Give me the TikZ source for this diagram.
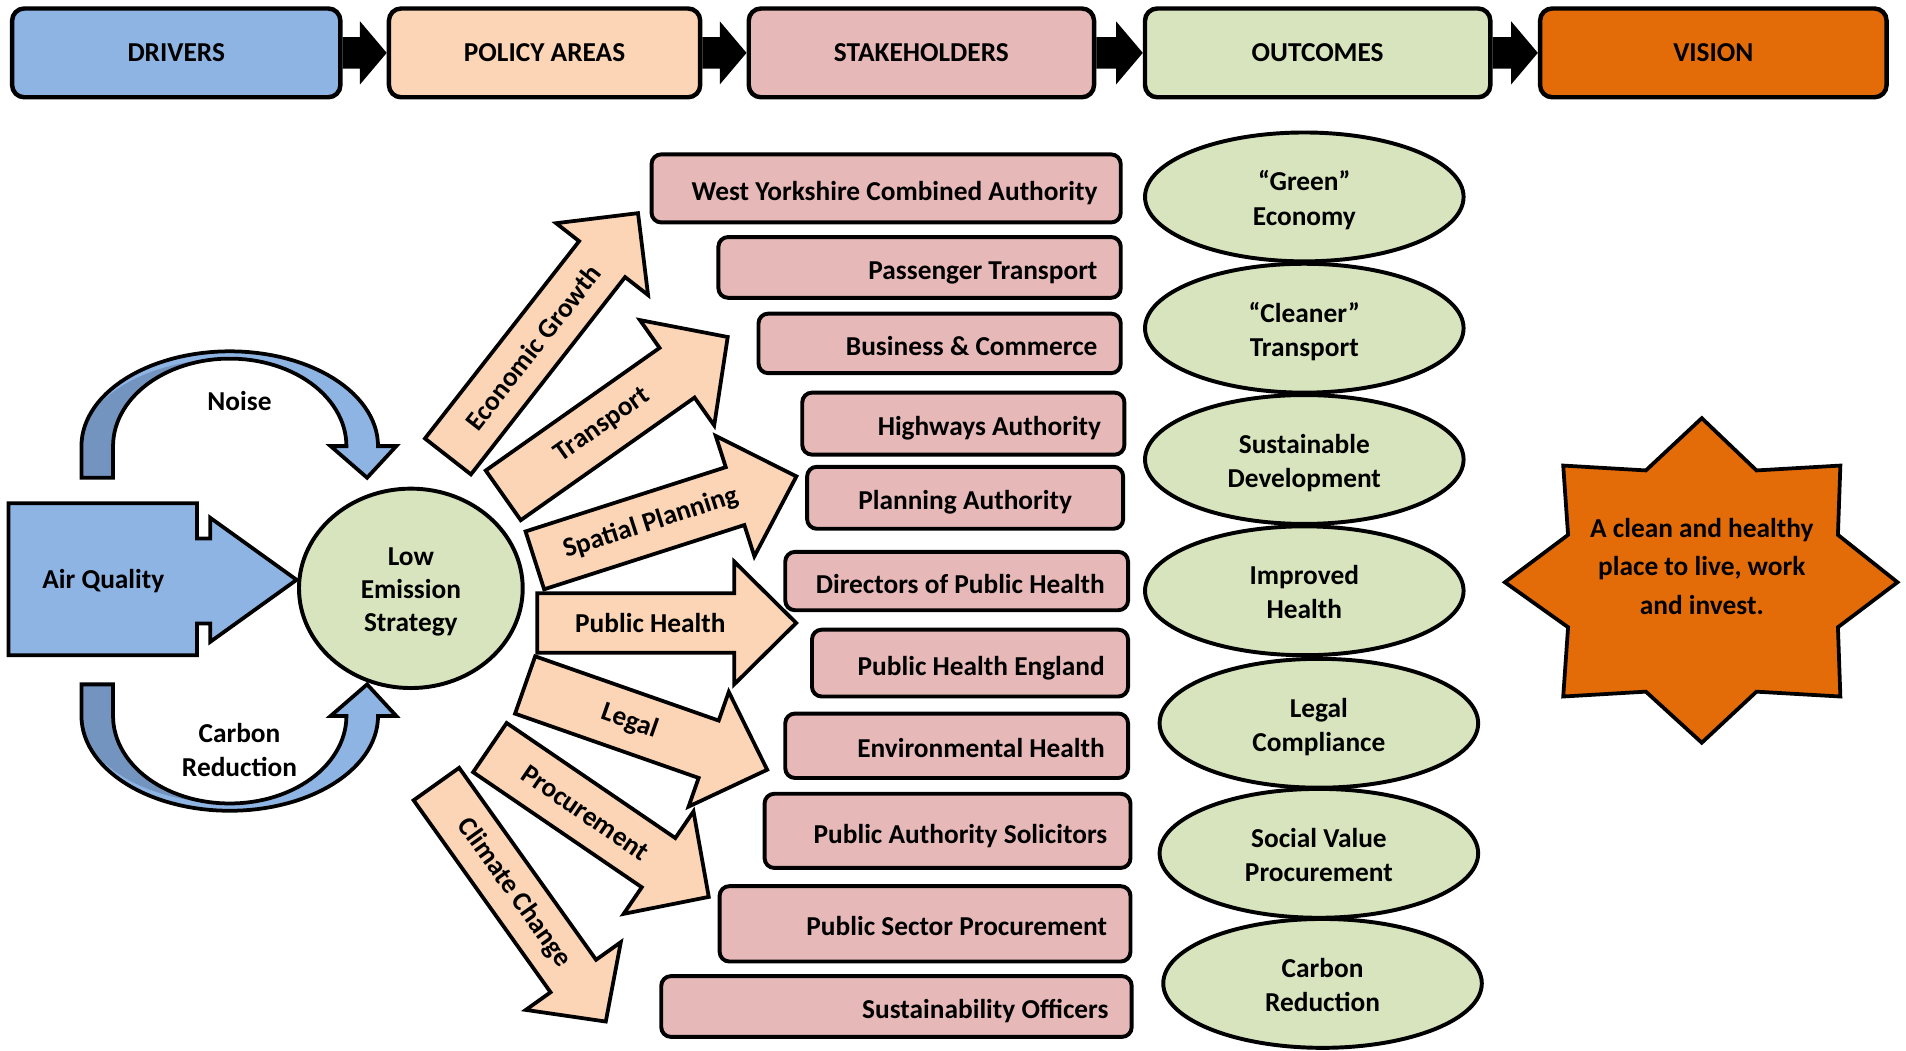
\documentclass[tikz,border=0pt]{standalone}
\usepackage{fontspec}
\setmainfont{Carlito}
\usetikzlibrary{shapes.geometric,calc}
\definecolor{hblue}{HTML}{8EB4E3}
\definecolor{dblue}{HTML}{7394BF}
\definecolor{peach}{HTML}{FBD5B5}
\definecolor{spink}{HTML}{E6B9B8}
\definecolor{lgreen}{HTML}{D7E4BD}
\definecolor{orng}{HTML}{E36C09}
\newcommand{\parrow}[9]{%
  \begin{scope}[shift={#2}, rotate=#3]
    \draw[polarrow] (0,-#5) -- ({#4-#7},-#5) -- ({#4-#7},-#6) -- (#4,0) -- ({#4-#7},#6) -- ({#4-#7},#5) -- (0,#5) -- cycle;
    \node[lbl, rotate=#3] (#1) at (#8,0) {#9};
  \end{scope}}
% name, x1, x2, y1, y2, text, r (right aligned) or c (centered)
\newcommand{\stake}[7]{%
  \pgfmathsetmacro{\stkw}{(#3-#2)*0.025}%
  \pgfmathsetmacro{\stkh}{(#5-#4)*0.025}%
  \node[stk, minimum width=\stkw cm, minimum height=\stkh cm] (#1) at ({(#2+#3)/2},{(#4+#5)/2}) {};
  \if#7r
    \node[lbl, anchor=base east] (#1t) at ($(#1.east)+(-20.5,10)$) {#6};
  \else
    \node[lbl, anchor=base] (#1t) at ($(#1.center)+(0,10)$) {#6};
  \fi}
\newcommand{\outcome}[5]{%
  \node[outc] (#1) at (#2,#3) {};
  \node[lbl, align=center] (#1t) at ($(#1.center)+(0,3.5)$) {\strut #4\\\strut #5};}
\begin{document}
\begin{tikzpicture}[x=0.025cm, y=-0.025cm,
  lbl/.style={font=\fontsize{16}{20}\selectfont\bfseries, inner sep=0pt},
  hdr/.style={lbl, draw, line width=2.6pt, rounded corners=0.25cm, minimum height=1.825cm},
  stk/.style={draw, line width=2.3pt, fill=spink, rounded corners=0.2cm, inner sep=0pt},
  outc/.style={ellipse, draw, line width=2.3pt, fill=lgreen, minimum width=6.55cm, minimum height=2.65cm, inner sep=0pt},
  polarrow/.style={draw, line width=2.2pt, fill=peach, line join=miter},
  shp/.style={draw, line width=2.2pt}]
\useasboundingbox (0,0) rectangle (1568,864);

% ---------- header ----------
\node[hdr, fill=hblue, minimum width=6.75cm] (h1) at (145,43.5) {DRIVERS};
\node[hdr, fill=peach, minimum width=6.4cm] (h2) at (448,43.5) {POLICY AREAS};
\node[hdr, fill=spink, minimum width=7.1cm] (h3) at (758,43.5) {STAKEHOLDERS};
\node[hdr, fill=lgreen, minimum width=7.1cm] (h4) at (1084,43.5) {OUTCOMES};
\node[hdr, fill=orng, minimum width=7.125cm] (h5) at (1409.5,43.5) {VISION};
\foreach \a/\b in {h1/h2, h2/h3, h3/h4, h4/h5}{
  \fill ($(\a.east)+(0,-13)$) -- ($(\b.west)+(-22,-13)$) -- ($(\b.west)+(-22,-26)$) -- (\b.west)
     -- ($(\b.west)+(-22,26)$) -- ($(\b.west)+(-22,13)$) -- ($(\a.east)+(0,13)$) -- cycle;
}

% ---------- drivers ----------
\draw[shp, fill=hblue, line join=miter] (7,414) -- (162,414) -- (162,443) -- (173,443) -- (173,426) -- (244,477)
   -- (173,528) -- (173,513) -- (162,513) -- (162,539) -- (7,539) -- cycle;
\node[lbl] (aq) at (85,478) {Air Quality};

% Noise curved arrow
\fill[hblue] (67,393) -- (67,367) -- plot[domain=180:0, samples=60] ({189+122*cos(\x)},{367-78*sin(\x)})
   -- (326,367) -- (302,393) -- (272,367) -- (285,367)
   -- plot[domain=0:180, samples=60] ({189+96*cos(\x)},{367-72*sin(\x)}) -- (93,393) -- cycle;
\fill[dblue] (67,393) -- (67,367) -- plot[domain=180:90, samples=40] ({189+122*cos(\x)},{367-72*sin(\x)})
   -- plot[domain=90:180, samples=40] ({189+96*cos(\x)},{367-72*sin(\x)}) -- (93,393) -- cycle;
\draw[shp, line join=miter] (67,393) -- (67,367) -- plot[domain=180:0, samples=60] ({189+122*cos(\x)},{367-78*sin(\x)})
   -- (326,367) -- (302,393) -- (272,367) -- (285,367)
   -- plot[domain=0:180, samples=60] ({189+96*cos(\x)},{367-72*sin(\x)}) -- (93,393) -- cycle;
\node[lbl] (noise) at (197,330) {Noise};

% Carbon curved arrow
\fill[hblue] (67,563) -- (67,589) -- plot[domain=180:0, samples=60] ({189+122*cos(\x)},{589+78*sin(\x)})
   -- (326,589) -- (302,563) -- (272,589) -- (285,589)
   -- plot[domain=0:180, samples=60] ({189+96*cos(\x)},{589+72*sin(\x)}) -- (93,563) -- cycle;
\fill[dblue] (67,563) -- (67,589) -- plot[domain=180:90, samples=40] ({189+122*cos(\x)},{589+72*sin(\x)})
   -- plot[domain=90:180, samples=40] ({189+96*cos(\x)},{589+72*sin(\x)}) -- (93,563) -- cycle;
\draw[shp, line join=miter] (67,563) -- (67,589) -- plot[domain=180:0, samples=60] ({189+122*cos(\x)},{589+78*sin(\x)})
   -- (326,589) -- (302,563) -- (272,589) -- (285,589)
   -- plot[domain=0:180, samples=60] ({189+96*cos(\x)},{589+72*sin(\x)}) -- (93,563) -- cycle;
\node[lbl, align=center] (carb) at (197,617) {Carbon\\Reduction};

% Low emission strategy
\node[ellipse, draw, line width=2.3pt, fill=lgreen, minimum width=4.6cm, minimum height=4.1cm, inner sep=0pt] (les) at (338,484) {};
\node[lbl, align=center, font=\fontsize{16}{19.5}\selectfont\bfseries] (lest) at ($(les.center)+(0,3)$) {Low\\Emission\\Strategy};

% ---------- policy areas ----------
\parrow{pecon}{(368.5,375.5)}{52}{254}{24}{48}{48}{114}{Economic Growth}
\parrow{ptrans}{(414,407.5)}{35.2}{226}{25}{53}{51}{100}{Transport}
\parrow{pspat}{(440,461)}{17.8}{226}{25}{52}{53}{100}{Spatial Planning}
\parrow{phealth}{(442,512.5)}{0}{213}{24.5}{50.5}{51}{93}{Public Health}
\parrow{plegal}{(432,563.5)}{-19.3}{211}{25}{50}{51}{91}{Legal}
\parrow{pproc}{(403,615)}{-34.3}{218}{24.5}{51}{50}{95}{Procurement}
\parrow{pclim}{(359,645)}{-54.5}{240}{23}{48}{46}{110}{Climate Change}

% ---------- stakeholders ----------
\stake{s1}{536}{922}{127}{183}{West Yorkshire Combined Authority}{r}
\stake{s2}{591}{922}{195}{245}{Passenger Transport}{r}
\stake{s3}{624}{922}{258}{307}{Business \& Commerce}{r}
\stake{s4}{660}{925}{323}{374}{Highways Authority}{r}
\stake{s5}{664}{924}{384}{435}{Planning Authority}{c}
\stake{s6}{646}{928}{454}{502}{Directors of Public Health}{r}
\stake{s7}{668}{928}{518}{573}{Public Health England}{r}
\stake{s8}{646}{928}{587}{640}{Environmental Health}{r}
\stake{s9}{629}{930}{653}{714}{Public Authority Solicitors}{r}
\stake{s10}{592}{930}{729}{791}{Public Sector Procurement}{r}
\stake{s11}{544}{931}{803}{853}{Sustainability Officers}{r}

% ---------- outcomes ----------
\outcome{o1}{1073}{162}{“Green”}{Economy}
\outcome{o2}{1073}{270}{“Cleaner”}{Transport}
\outcome{o3}{1073}{378}{Sustainable}{Development}
\outcome{o4}{1073}{486}{Improved}{Health}
\outcome{o5}{1085}{595}{Legal}{Compliance}
\outcome{o6}{1085}{702}{Social Value}{Procurement}
\outcome{o7}{1088}{809}{Carbon}{Reduction}

% ---------- vision ----------
\draw[shp, fill=orng, line join=miter] (1400,344) -- (1445,387) -- (1514,383) -- (1512,440) -- (1561,479) -- (1512,516)
  -- (1514,573) -- (1445,569) -- (1400,611) -- (1354,569) -- (1286,573) -- (1290,516) -- (1238,479) -- (1290,440)
  -- (1286,383) -- (1354,387) -- cycle;
\node[lbl, align=center, font=\fontsize{16}{22.4}\selectfont\bfseries] (vis) at (1400,466) {A clean and healthy\\place to live, work\\and invest.};
\end{tikzpicture}
\end{document}
